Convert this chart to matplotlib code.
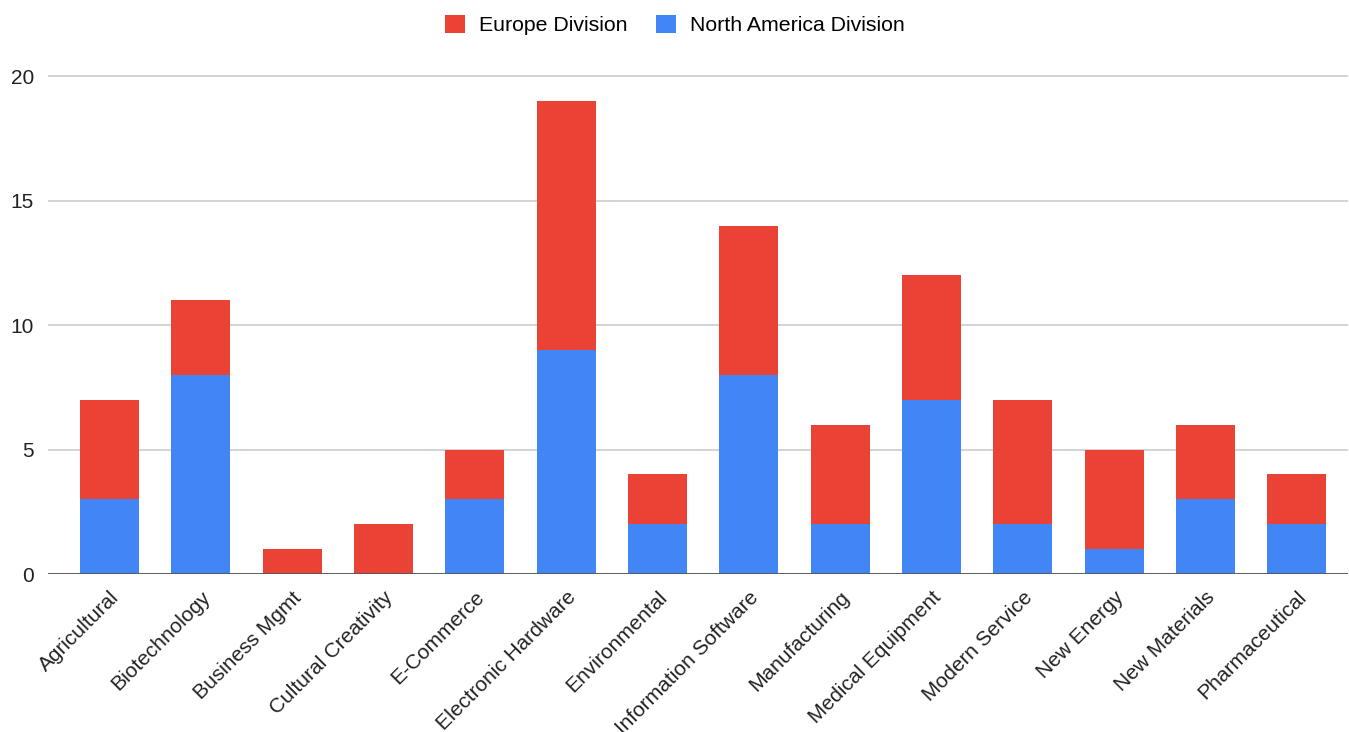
import numpy as np
import matplotlib.pyplot as plt

plt.rcParams['font.family'] = ['Liberation Sans', 'DejaVu Sans']

categories = ["Agricultural", "Biotechnology", "Business Mgmt", "Cultural Creativity",
              "E-Commerce", "Electronic Hardware", "Environmental", "Information Software",
              "Manufacturing", "Medical Equipment", "Modern Service", "New Energy",
              "New Materials", "Pharmaceutical"]
north_america = [3, 8, 0, 0, 3, 9, 2, 8, 2, 7, 2, 1, 3, 2]
europe = [4, 3, 1, 2, 2, 10, 2, 6, 4, 5, 5, 4, 3, 2]
y_ticks = [0, 5, 10, 15, 20]

red = "#EA4335"
blue = "#4285F4"

W, H = 1349, 732
fig = plt.figure(figsize=(W / 100, H / 100), dpi=100)
# axes placed in pixel terms
left, right, bottom, top = 48, 1348, 574, 71.5
ax = fig.add_axes([left / W, 1 - bottom / H, (right - left) / W, (bottom - top) / H])

x = np.arange(len(categories))
bw = 0.646
ax.bar(x, north_america, bw, color=blue, label="North America Division", zorder=2)
ax.bar(x, europe, bw, bottom=north_america, color=red, label="Europe Division", zorder=2)

ax.set_xlim(-0.674, len(categories) - 1 + 0.56)
ax.set_ylim(0, 20.2)
ax.set_yticks(y_ticks)
ax.set_yticklabels([str(v) for v in y_ticks], fontsize=15, color="#222222")
ax.yaxis.grid(True, color="#cccccc", linewidth=1.2, zorder=0)
ax.axhline(0, color="#555555", linewidth=2.0, zorder=3)
ax.tick_params(axis="y", length=0, pad=10)
ax.tick_params(axis="x", length=0, pad=10)
ax.set_xticks(x)
ax.set_xticklabels(categories, rotation=45, ha="right", va="top",
                   rotation_mode="anchor", fontsize=15, color="#222222")
for s in ax.spines.values():
    s.set_visible(False)

handles, labels = ax.get_legend_handles_labels()
fig.legend(handles[::-1], labels[::-1], loc="center", bbox_to_anchor=(0.5, 1 - 25 / H),
           ncol=2, frameon=False, fontsize=15.3, handlelength=0.95, handleheight=0.95,
           handletextpad=0.65, columnspacing=1.35)

fig.savefig("out.png", dpi=100)
